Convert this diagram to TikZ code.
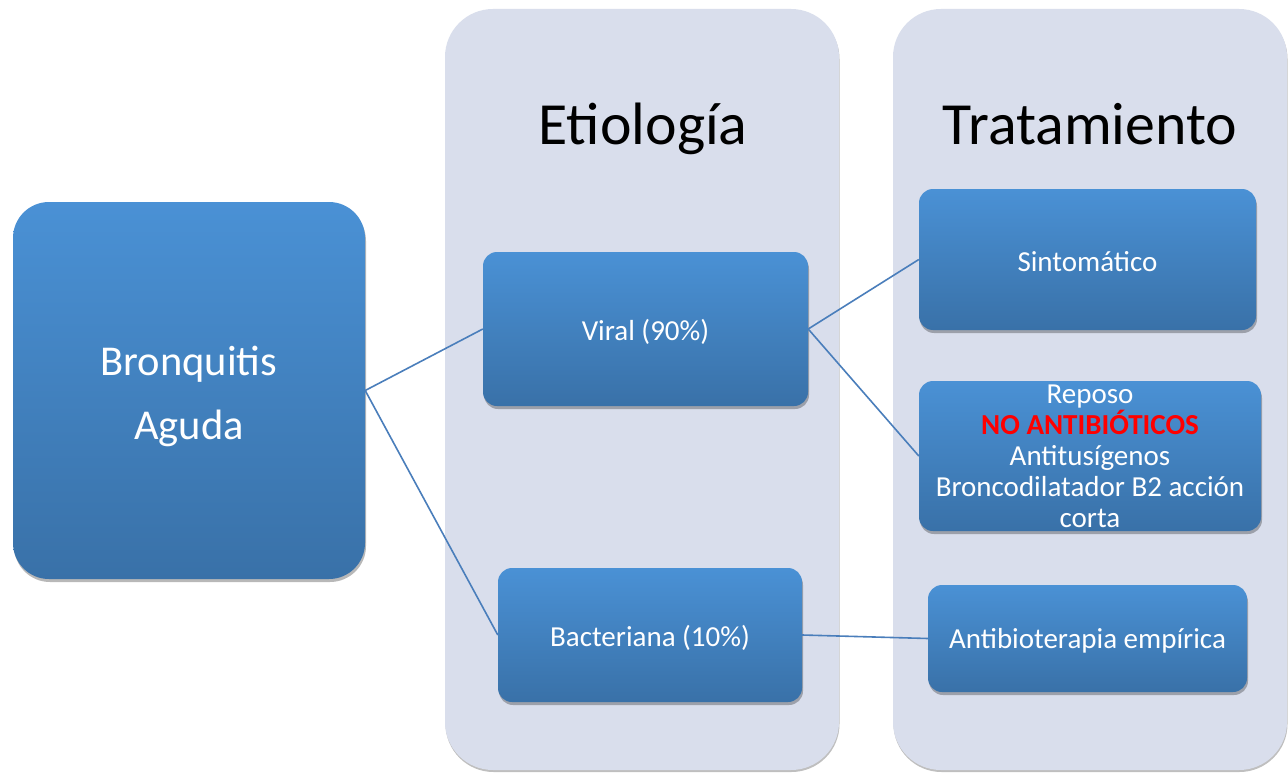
\documentclass[tikz,border=0pt]{standalone}
\usepackage{fontspec}
\setmainfont{Carlito}
\usetikzlibrary{shadows}
\definecolor{colbg}{RGB}{217,222,236}
\definecolor{boxtop}{RGB}{74,145,213}
\definecolor{boxbot}{RGB}{57,113,168}
\definecolor{linkc}{RGB}{74,126,187}
\definecolor{nored}{RGB}{255,0,0}
\tikzset{
  colpanel/.style={rectangle, fill=colbg, rounded corners=48pt, inner sep=0pt,
    minimum width=394pt, minimum height=761pt,
    drop shadow={shadow xshift=0.5pt, shadow yshift=-2pt, opacity=0.25, fill=black}},
  bluebox/.style={rectangle, rounded corners=14pt, top color=boxtop, bottom color=boxbot,
    inner sep=0pt,
    drop shadow={shadow xshift=1pt, shadow yshift=-3pt, opacity=0.28, fill=black}},
  bigbox/.style={bluebox, rounded corners=36pt},
  boxtext/.style={text=white, align=center, inner sep=0pt, font=\fontsize{29}{31}\selectfont},
  bigtext/.style={boxtext, font=\fontsize{42.5}{64}\selectfont},
  title/.style={anchor=base, inner sep=0pt, font=\fontsize{59.8}{70}\selectfont},
  link/.style={draw=linkc, line width=1.6pt},
}
\begin{document}
\begin{tikzpicture}[x=1pt,y=-1pt]
\useasboundingbox (0,0) rectangle (1288,773);
\fill[white] (0,0) rectangle (1288,773);
% column panels
\node[colpanel] (col1) at (642,389.5) {};
\node[colpanel] (col2) at (1090,389.5) {};
\node[title] (t1) at (643,145) {Etiología};
\node[title] (t2) at (1090,145) {Tratamiento};
% boxes
\node[bigbox, minimum width=352pt, minimum height=377pt] (bron) at (189,390.5) {};
\node[bluebox, minimum width=325pt, minimum height=154pt] (viral) at (645.5,329) {};
\node[bluebox, minimum width=304pt, minimum height=134pt] (bact) at (650,635) {};
\node[bluebox, minimum width=337pt, minimum height=141pt] (sint) at (1087.5,259.5) {};
\node[bluebox, minimum width=342pt, minimum height=150pt] (repo) at (1090,456) {};
\node[bluebox, minimum width=319pt, minimum height=107pt] (anti) at (1087.5,638.5) {};
% texts
\node[bigtext] (bronText) at (189,396) {Bronquitis\\Aguda};
\node[boxtext] (viralText) at (645.5,331.5) {Viral (90\%)};
\node[boxtext] (bactText) at (650,638) {Bacteriana (10\%)};
\node[boxtext] (sintText) at (1087.5,262) {Sintomático};
\node[boxtext] (antiText) at (1087.5,641) {Antibioterapia empírica};
\node[boxtext] (repoText) at (1090,456)
  {Reposo\\{\color{nored}\bfseries NO ANTIBIÓTICOS}\\Antitusígenos\\Broncodilatador B2 acción\\corta};
% connectors
\draw[link] (bron.east) -- (viral.west);
\draw[link] (bron.east) -- (bact.west);
\draw[link] (viral.east) -- (sint.west);
\draw[link] (viral.east) -- (repo.west);
\draw[link] (bact.east) -- (anti.west);
\end{tikzpicture}
\end{document}
